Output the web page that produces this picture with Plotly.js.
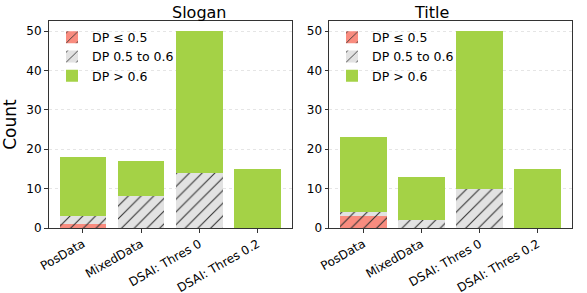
<!DOCTYPE html>
<html><head><meta charset="utf-8">
<script src="https://cdn.plot.ly/plotly-3.0.1.min.js"></script>
<style>html,body{margin:0;padding:0;background:#fff}</style>
</head><body><div id="chart" style="width:587px;height:293px"></div>
<script>
const categories = ["PosData", "MixedData", "DSAI: Thres 0", "DSAI: Thres 0.2"];
const sloganLow = [1, 0, 0, 0];
const sloganMid = [2, 8, 14, 0];
const sloganHigh = [15, 9, 36, 15];
const titleLow = [3, 0, 0, 0];
const titleMid = [1, 2, 10, 0];
const titleHigh = [19, 11, 40, 15];
const seriesNames = ["DP ≤ 0.5", "DP 0.5 to 0.6", "DP > 0.6"];
const panelTitles = ["Slogan", "Title"];

const colors = ["#F98C7F", "#E2E2E2", "#A4D246"];
const hatch = [true, true, false];
function mk(vals, i, xa, ya, leg) {
  const m = {color: colors[i], line: {width: 0}};
  if (hatch[i]) m.pattern = {shape: "/", fgcolor: "#333333", bgcolor: colors[i], size: 9, solidity: 0.12, fillmode: "replace"};
  return {type: "bar", x: categories, y: vals, name: seriesNames[i], marker: m,
    xaxis: xa, yaxis: ya, legend: leg, hoverinfo: "none"};
}
const data = [
  mk(sloganLow, 0, "x", "y", "legend"), mk(sloganMid, 1, "x", "y", "legend"), mk(sloganHigh, 2, "x", "y", "legend"),
  mk(titleLow, 0, "x2", "y2", "legend2"), mk(titleMid, 1, "x2", "y2", "legend2"), mk(titleHigh, 2, "x2", "y2", "legend2")
];
const fnt = {family: "DejaVu Sans", color: "#000"};
const yb = 1 - 228/293, yt = 1 - 21.2/293;
function xax(d, anchor) {
  return {domain: d, anchor: anchor, type: "category", range: [-0.59, 3.59], tickangle: -30,
    showline: true, mirror: true, linecolor: "#333", linewidth: 1, ticks: "outside", ticklen: 3.5,
    tickcolor: "#333", tickfont: Object.assign({size: 12}, fnt), showgrid: false, zeroline: false, fixedrange: true};
}
function yax(anchor) {
  return {domain: [yb, yt], anchor: anchor, range: [0, 52.5], tickvals: [0, 10, 20, 30, 40, 50],
    showline: true, mirror: true, linecolor: "#333", linewidth: 1, ticks: "outside", ticklen: 3.5,
    tickcolor: "#333", tickfont: Object.assign({size: 12}, fnt), showgrid: true, gridcolor: "#dedede",
    griddash: "dot", gridwidth: 0.8, zeroline: false, fixedrange: true};
}
const leg = (x) => ({x: x, y: yt - 0.005, xanchor: "left", yanchor: "top", bgcolor: "rgba(0,0,0,0)",
  font: Object.assign({size: 12.5}, fnt), itemwidth: 30, traceorder: "normal", tracegroupgap: 0});
const layout = {
  width: 587, height: 293, margin: {l: 0, r: 0, t: 0, b: 0},
  paper_bgcolor: "#fff", plot_bgcolor: "#fff", barmode: "stack", bargap: 0.2,
  xaxis: xax([48.5/587, 292/587], "y"), yaxis: Object.assign(yax("x"), {title: {text: "Count", font: Object.assign({size: 17}, fnt), standoff: 8}}),
  xaxis2: xax([329/587, 572/587], "y2"), yaxis2: yax("x2"),
  legend: leg(52/587), legend2: leg(332/587),
  showlegend: true,
  annotations: [
    {text: panelTitles[0], x: (48.5+292)/2/587, y: 1 - 13/293, xref: "paper", yref: "paper", showarrow: false, font: Object.assign({size: 16}, fnt), yanchor: "middle"},
    {text: panelTitles[1], x: (329+572)/2/587, y: 1 - 13/293, xref: "paper", yref: "paper", showarrow: false, font: Object.assign({size: 16}, fnt), yanchor: "middle"}
  ]
};
Plotly.newPlot("chart", data, layout, {staticPlot: true, displayModeBar: false});
</script></body></html>
